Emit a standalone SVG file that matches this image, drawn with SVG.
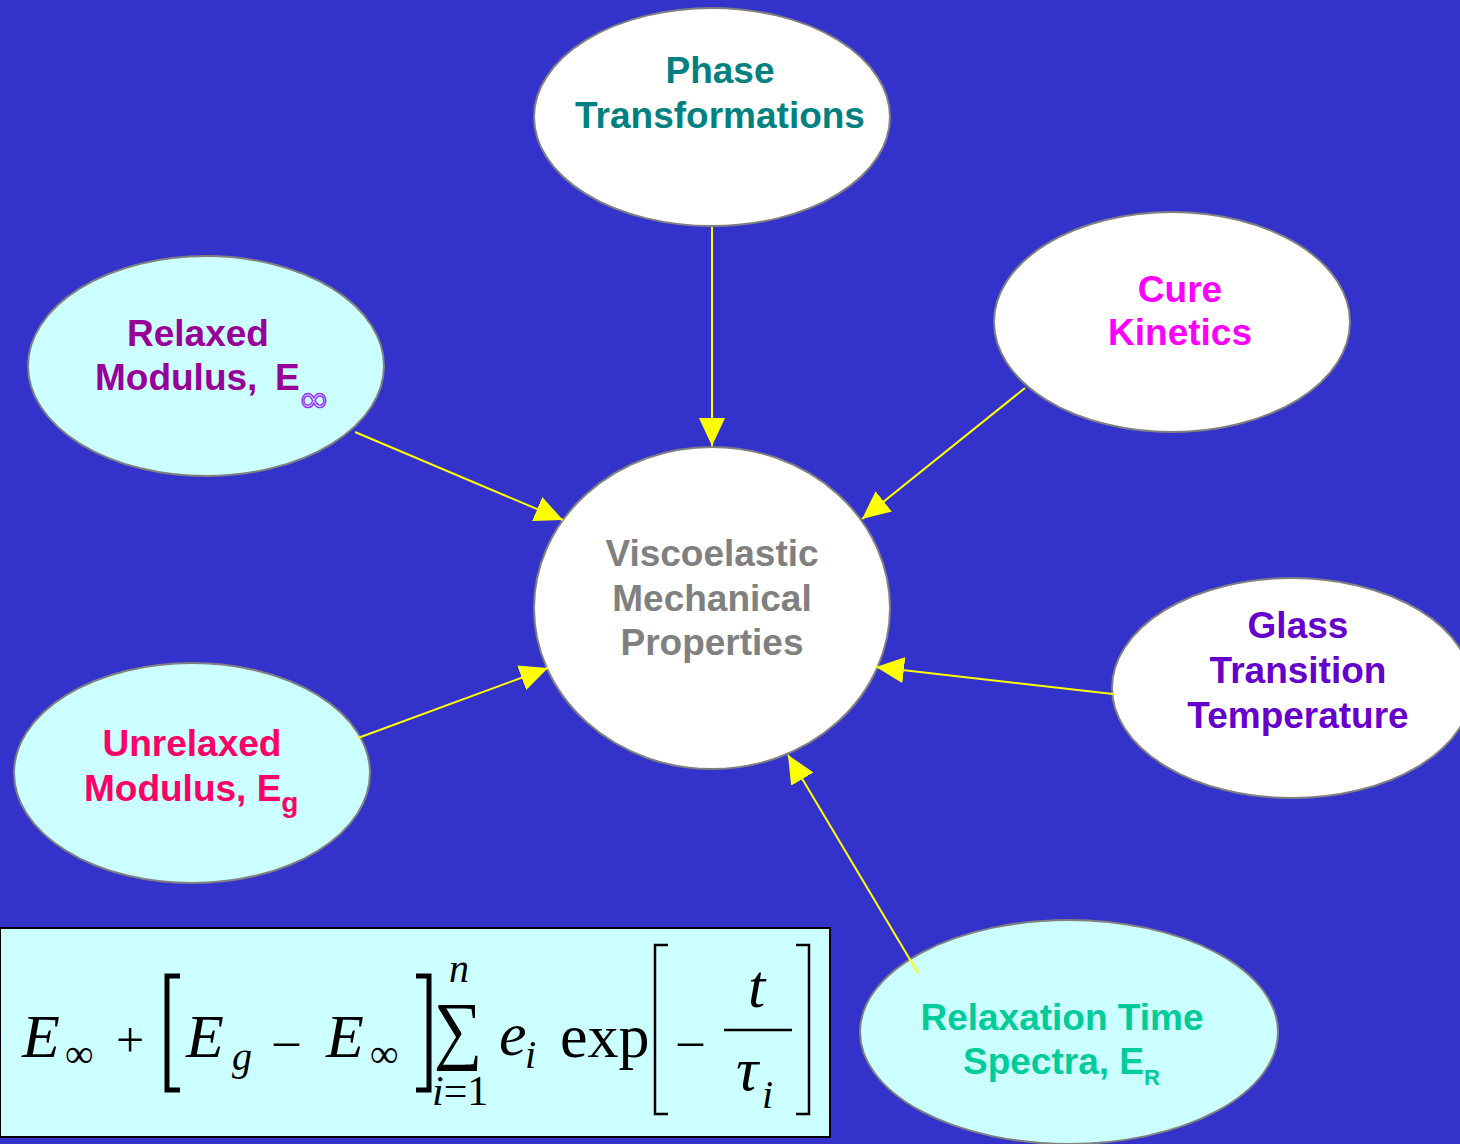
<svg xmlns="http://www.w3.org/2000/svg" width="1460" height="1144" viewBox="0 0 1460 1144">
<style>
.node{stroke:#808080;stroke-width:2}
.w{fill:#ffffff}
.c{fill:#ccffff}
.t{font-family:"Liberation Sans",Arial,sans-serif;font-weight:bold;font-size:37px}
.conn{stroke:#ffff00;stroke-width:2;fill:none}
.m{font-family:"Liberation Serif","Times New Roman",serif;fill:#000}
.mi{font-style:italic}
</style>
<defs>
<marker id="ah" markerUnits="userSpaceOnUse" markerWidth="30" markerHeight="28" refX="28" refY="13" orient="auto">
<path d="M0,0 L28,13 L0,26 Z" fill="#ffff00"/>
</marker>
</defs>
<rect x="0" y="0" width="1460" height="1144" fill="#3333cc"/>

<g id="phase">
<ellipse class="node w" cx="712" cy="117" rx="178" ry="109"/>
<text class="t" fill="#008080" text-anchor="middle" x="720" y="83">Phase</text>
<text class="t" fill="#008080" text-anchor="middle" x="720" y="128">Transformations</text>
</g>

<g id="cure">
<ellipse class="node w" cx="1172" cy="322" rx="178" ry="110"/>
<text class="t" fill="#ff00ff" text-anchor="middle" x="1180" y="302">Cure</text>
<text class="t" fill="#ff00ff" text-anchor="middle" x="1180" y="345">Kinetics</text>
</g>

<g id="relaxed">
<ellipse class="node c" cx="206" cy="366" rx="178" ry="110"/>
<text class="t" fill="#990099" text-anchor="middle" x="198" y="346">Relaxed</text>
<text class="t" fill="#990099" x="95" y="390">Modulus,<tspan x="275">E</tspan></text>
<text font-family="'DejaVu Sans',sans-serif" font-size="38" fill="none" stroke="#9933ff" stroke-width="1.4" x="298" y="412">∞</text>
</g>

<g id="center">
<ellipse class="node w" cx="712" cy="608" rx="178" ry="161"/>
<text class="t" fill="#808080" text-anchor="middle" x="712" y="566">Viscoelastic</text>
<text class="t" fill="#808080" text-anchor="middle" x="712" y="611">Mechanical</text>
<text class="t" fill="#808080" text-anchor="middle" x="712" y="655">Properties</text>
</g>

<g id="unrelaxed">
<ellipse class="node c" cx="192" cy="773" rx="178" ry="110"/>
<text class="t" fill="#ff0066" text-anchor="middle" x="192" y="756">Unrelaxed</text>
<text class="t" fill="#ff0066" x="84" y="801">Modulus, E<tspan font-size="28" y="812">g</tspan></text>
</g>

<g id="glass">
<ellipse class="node w" cx="1292" cy="688" rx="180" ry="110"/>
<text class="t" fill="#6600cc" text-anchor="middle" x="1298" y="638">Glass</text>
<text class="t" fill="#6600cc" text-anchor="middle" x="1298" y="683">Transition</text>
<text class="t" fill="#6600cc" text-anchor="middle" x="1298" y="728">Temperature</text>
</g>

<g id="relaxation">
<ellipse class="node c" cx="1069" cy="1032" rx="209" ry="112"/>
<text class="t" fill="#00cc99" text-anchor="middle" x="1062" y="1030">Relaxation Time</text>
<text class="t" fill="#00cc99" x="963" y="1074">Spectra, E<tspan font-size="22" y="1085">R</tspan></text>
</g>

<g id="formula">
<rect x="0" y="928" width="830" height="209" fill="#ccffff" stroke="#000" stroke-width="2"/>
<text class="m mi" font-size="62" x="22" y="1057">E</text>
<text class="m" font-size="40" x="65" y="1067">∞</text>
<text class="m" font-size="50" x="116" y="1057">+</text>
<polyline points="180,976 167,976 167,1090 180,1090" fill="none" stroke="#000" stroke-width="5"/>
<text class="m mi" font-size="62" x="186" y="1057">E</text>
<text class="m mi" font-size="40" x="232" y="1070">g</text>
<text class="m" font-size="50" x="274" y="1057">–</text>
<text class="m mi" font-size="62" x="326" y="1057">E</text>
<text class="m" font-size="40" x="370" y="1067">∞</text>
<polyline points="416,976 429,976 429,1090 416,1090" fill="none" stroke="#000" stroke-width="5"/>
<text class="m mi" font-size="40" x="449" y="982">n</text>
<text class="m" font-size="68" x="434" y="0" transform="translate(0,1055) scale(1,1.12)">∑</text>
<text class="m" font-size="42" x="432" y="1105"><tspan class="mi">i</tspan>=1</text>
<text class="m mi" font-size="62" x="499" y="1055">e</text>
<text class="m mi" font-size="40" x="525" y="1068">i</text>
<text class="m" font-size="62" x="560" y="1057">exp</text>
<polyline points="668,945 655,945 655,1114 668,1114" fill="none" stroke="#000" stroke-width="2.5"/>
<text class="m" font-size="50" x="678" y="1057">–</text>
<text class="m mi" font-size="62" x="748" y="1007">t</text>
<line x1="724" y1="1030" x2="792" y2="1030" stroke="#000" stroke-width="2.5"/>
<text class="m mi" font-size="62" x="736" y="1090">τ</text>
<text class="m mi" font-size="40" x="762" y="1108">i</text>
<polyline points="796,945 809,945 809,1114 796,1114" fill="none" stroke="#000" stroke-width="2.5"/>
</g>

<g id="connectors">
<line class="conn" x1="712" y1="227" x2="712" y2="446" marker-end="url(#ah)"/>
<line class="conn" x1="355" y1="432" x2="563" y2="520" marker-end="url(#ah)"/>
<line class="conn" x1="1025" y1="388" x2="862" y2="519" marker-end="url(#ah)"/>
<line class="conn" x1="358" y1="738" x2="548" y2="668" marker-end="url(#ah)"/>
<line class="conn" x1="1113" y1="694" x2="876" y2="667" marker-end="url(#ah)"/>
<line class="conn" x1="918" y1="973" x2="788" y2="755" marker-end="url(#ah)"/>
</g>
</svg>
